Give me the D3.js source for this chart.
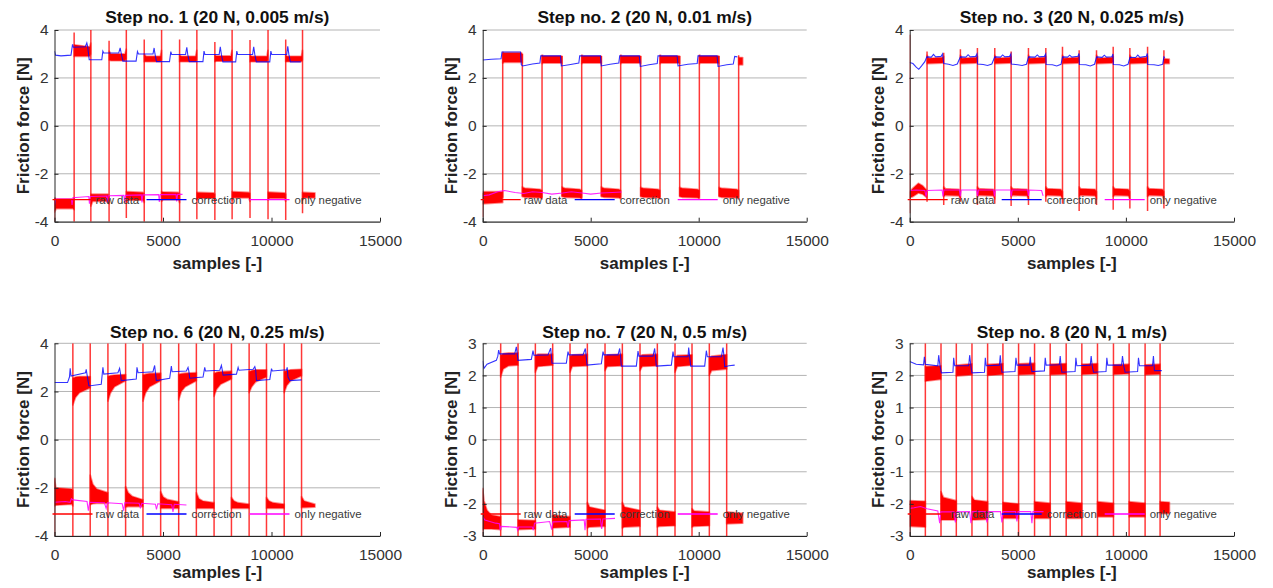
<!DOCTYPE html>
<html>
<head>
<meta charset="utf-8">
<script src="https://cdn.jsdelivr.net/npm/d3@7"></script>
<style>
  body { margin: 0; background: #fff; }
  svg { display: block; font-family: "Liberation Sans", Arial, Helvetica, sans-serif; }
</style>
</head>
<body>
<svg id="fig" width="1273" height="588"></svg>
<script>
// ---------- shared labels / ticks ----------
const stepTitles = [
  "Step no. 1 (20 N, 0.005 m/s)",
  "Step no. 2 (20 N, 0.01 m/s)",
  "Step no. 3 (20 N, 0.025 m/s)",
  "Step no. 6 (20 N, 0.25 m/s)",
  "Step no. 7 (20 N, 0.5 m/s)",
  "Step no. 8 (20 N, 1 m/s)"
];
const xTicks = [0, 5000, 10000, 15000];
const yTicksWide = [-4, -2, 0, 2, 4];
const yTicksNarrow = [-3, -2, -1, 0, 1, 2, 3];
const legendLabels = ["raw data", "correction", "only negative"];
const xLabel = "samples [-]";
const yLabel = "Friction force [N]";

// ---------- Step 1 ----------
// raw data sign switches: [sample, lowest value, highest value]
const step1Switch = [
  [0,-4,-3.0],[905,-4,3.9],[1675,-4,4],[2515,-4,3.55],[3310,-3.85,4],[4135,-4,3.6],[4935,-4,4],
  [5765,-4,3.6],[6560,-3.9,4],[7390,-3.93,3.5],[8185,-3.9,4],[9010,-3.85,3.58],[9840,-3.9,4],
  [10655,-3.93,3.6],[11430,-3.65,4]
];
// raw data plateaus: [sample, lower envelope, upper envelope]
const step1Pos = [
  [[905,2.9,3.38],[1620,2.9,3.3],[1670,3.0,3.45]],
  [[2515,2.75,3.12],[2600,2.72,3.0],[3250,2.72,3.0],[3305,2.8,3.2]],
  [[4135,2.68,3.0],[4220,2.68,2.9],[4880,2.68,2.9],[4930,2.75,3.15]],
  [[5765,2.68,2.95],[5850,2.68,2.9],[6500,2.68,2.9],[6555,2.75,3.15]],
  [[7390,2.68,2.95],[7470,2.7,2.92],[8130,2.7,2.92],[8180,2.75,3.15]],
  [[9010,2.68,2.95],[9090,2.68,2.9],[9790,2.68,2.9],[9835,2.75,3.15]],
  [[10655,2.68,2.95],[10730,2.68,2.9],[11380,2.68,2.9],[11425,2.75,3.15]]
];
const step1Neg = [
  [[0,-3.6,-3.0],[80,-3.45,-3.05],[850,-3.45,-3.05],[905,-3.5,-3.0]],
  [[1675,-3.35,-2.85],[1760,-3.15,-2.85],[2460,-3.15,-2.85],[2515,-3.25,-2.9]],
  [[3310,-3.2,-2.75],[3390,-3.1,-2.75],[4080,-3.1,-2.78],[4135,-3.2,-2.85]],
  [[4935,-3.15,-2.75],[5010,-3.08,-2.76],[5710,-3.08,-2.78],[5765,-3.2,-2.85]],
  [[6560,-3.1,-2.78],[6640,-3.02,-2.78],[7330,-3.02,-2.8],[7390,-3.15,-2.85]],
  [[8185,-3.1,-2.75],[8260,-3.0,-2.75],[8950,-3.0,-2.78],[9010,-3.15,-2.82]],
  [[9840,-3.1,-2.77],[9920,-3.02,-2.77],[10600,-3.02,-2.8],[10655,-3.15,-2.85]],
  [[11430,-3.1,-2.78],[11500,-3.0,-2.78],[12000,-3.0,-2.8]]
];
const step1Correction = [
  [0,3.12],[50,2.95],[300,2.92],[760,2.95],[800,3.2],[830,3.4],[870,3.28],[1420,3.3],[1490,3.46],
  [1530,3.3],[1600,2.76],[2180,2.76],[2228,3.12],[2270,3.04],[2960,3.04],[3026,3.25],[3070,3.05],
  [3150,2.7],[3760,2.7],[3823,3.1],[3870,3.0],[4540,3.0],[4591,3.25],[4630,3.0],[4700,2.68],
  [5300,2.68],[5360,3.1],[5400,2.98],[6040,2.98],[6097,3.28],[6140,2.98],[6210,2.68],[6840,2.68],
  [6890,3.12],[6930,2.98],[7590,2.98],[7640,3.3],[7690,2.98],[7760,2.67],[8350,2.67],[8400,3.12],
  [8440,2.98],[9130,2.98],[9180,3.3],[9230,2.98],[9300,2.67],[9920,2.67],[9970,3.12],[10010,2.98],
  [10700,2.98],[10750,3.32],[10800,2.98],[10870,2.67],[11350,2.67]
];
const step1OnlyNeg = [
  [0,-3.3],[60,-3.05],[780,-3.05],[810,-3.3],[850,-3.0],[1580,-2.95],[1610,-3.25],[1650,-2.95],
  [2400,-2.93],[2430,-3.22],[2470,-2.92],[3200,-2.9],[3230,-3.2],[3270,-2.9],[4000,-2.88],
  [4030,-3.2],[4070,-2.88],[4800,-2.87],[4830,-3.18],[4870,-2.87],[5600,-2.86],[5630,-3.15],
  [5670,-2.86],[5900,-2.86]
];

// ---------- Step 2 ----------
const step2Switch = [
  [0,-3.8,-2.8],[926,-3.0,3.05],[1836,-2.95,3.0],[2747,-3.0,2.95],[3672,-2.95,2.92],[4583,-3.0,2.95],
  [5493,-2.95,2.92],[6388,-3.0,2.95],[7314,-2.95,2.92],[8209,-3.0,2.95],[9119,-2.95,2.92],
  [10030,-3.0,2.95],[10940,-2.95,2.92],[11850,-3.0,2.95]
];
const step2Pos = [
  [[926,2.62,3.08],[1000,2.65,3.05],[1780,2.65,3.05],[1836,2.62,3.0]],
  [[2747,2.6,2.95],[2820,2.62,2.92],[3620,2.62,2.92],[3672,2.6,2.9]],
  [[4583,2.6,2.95],[4660,2.62,2.92],[5440,2.62,2.92],[5493,2.6,2.9]],
  [[6388,2.6,2.95],[6460,2.62,2.92],[7260,2.62,2.92],[7314,2.6,2.9]],
  [[8209,2.6,2.95],[8280,2.62,2.92],[9070,2.62,2.92],[9119,2.6,2.9]],
  [[10030,2.6,2.95],[10100,2.62,2.92],[10890,2.62,2.92],[10940,2.6,2.9]],
  [[11850,2.55,2.85],[12035,2.55,2.85]]
];
const step2Neg = [
  [[0,-3.25,-2.75],[926,-3.2,-2.75]],
  [[1836,-2.95,-2.55],[1950,-2.98,-2.6],[2650,-3.0,-2.65],[2747,-3.05,-2.7]],
  [[3672,-2.95,-2.55],[3790,-2.98,-2.6],[4490,-3.0,-2.65],[4583,-3.05,-2.7]],
  [[5493,-2.95,-2.55],[5610,-2.98,-2.6],[6300,-3.0,-2.65],[6388,-3.05,-2.7]],
  [[7314,-2.95,-2.57],[7430,-2.98,-2.6],[8120,-3.0,-2.65],[8209,-3.05,-2.7]],
  [[9119,-2.95,-2.57],[9230,-2.98,-2.6],[9940,-3.0,-2.65],[10030,-3.05,-2.7]],
  [[10940,-2.95,-2.57],[11050,-2.98,-2.6],[11760,-3.0,-2.65],[11850,-3.05,-2.7]]
];
const step2Correction = [
  [0,2.75],[400,2.78],[850,2.8],[894,3.08],[1750,3.08],[1788,2.55],[1850,2.5],[2300,2.58],
  [2650,2.62],[2685,2.92],[3600,2.92],[3640,2.5],[4000,2.55],[4450,2.62],[4490,2.92],[5450,2.92],
  [5490,2.5],[5900,2.57],[6300,2.62],[6343,2.92],[7250,2.92],[7297,2.48],[7700,2.55],[8080,2.6],
  [8116,2.92],[9000,2.92],[9042,2.5],[9500,2.57],[9930,2.6],[9968,2.92],[10850,2.92],[10894,2.48],
  [11300,2.55],[11600,2.58],[11667,2.9],[11788,2.88]
];
const step2OnlyNeg = [
  [0,-2.92],[300,-2.88],[700,-2.75],[1000,-2.7],[1500,-2.78],[1900,-2.82],[2300,-2.75],[2750,-2.78],
  [3200,-2.85],[3700,-2.8],[4100,-2.75],[4600,-2.8],[5000,-2.85],[5500,-2.8],[6000,-2.78],[6430,-2.76]
];

// ---------- Step 3 ----------
const step3Switch = [
  [0,-3.65,3.8],[802,-3.17,3.1],[1574,-3.3,3.05],[2345,-3.17,3.2],[3132,-3.3,3.25],[3935,-3.25,3.25],
  [4691,-3.35,3.1],[5493,-3.3,3.25],[6296,-3.17,3.25],[7067,-3.25,3.3],[7838,-3.55,3.15],
  [8641,-3.3,3.15],[9412,-3.5,3.3],[10184,-3.45,3.25],[11002,-3.55,3.3],[11758,-3.45,3.15]
];
const step3Pos = [
  [[802,2.6,2.95],[880,2.6,2.82],[1500,2.62,2.85],[1574,2.65,2.9]],
  [[2345,2.6,2.95],[2420,2.6,2.82],[3060,2.62,2.85],[3132,2.65,2.9]],
  [[3935,2.6,2.95],[4010,2.6,2.82],[4620,2.62,2.85],[4691,2.65,2.9]],
  [[5493,2.6,2.95],[5570,2.6,2.82],[6220,2.62,2.85],[6296,2.65,2.9]],
  [[7067,2.6,2.95],[7140,2.6,2.82],[7770,2.62,2.85],[7838,2.65,2.9]],
  [[8641,2.6,2.95],[8720,2.6,2.82],[9340,2.62,2.85],[9412,2.65,2.9]],
  [[10184,2.6,2.95],[10260,2.6,2.82],[10930,2.62,2.85],[11002,2.65,2.9]],
  [[11758,2.6,2.8],[12005,2.6,2.78]]
];
const step3Neg = [
  [[0,-3.0,-2.75],[150,-2.95,-2.6],[400,-2.8,-2.4],[600,-2.85,-2.5],[802,-3.0,-2.7]],
  [[1574,-2.95,-2.55],[1650,-2.9,-2.62],[2270,-2.92,-2.65],[2345,-3.05,-2.75]],
  [[3132,-2.95,-2.55],[3210,-2.9,-2.62],[3860,-2.92,-2.65],[3935,-3.05,-2.75]],
  [[4691,-2.95,-2.55],[4770,-2.9,-2.62],[5420,-2.92,-2.65],[5493,-3.05,-2.75]],
  [[6296,-2.95,-2.55],[6370,-2.9,-2.62],[6990,-2.92,-2.65],[7067,-3.05,-2.75]],
  [[7838,-2.95,-2.55],[7910,-2.9,-2.62],[8570,-2.92,-2.65],[8641,-3.05,-2.75]],
  [[9412,-2.95,-2.55],[9490,-2.9,-2.62],[10110,-2.92,-2.65],[10184,-3.05,-2.75]],
  [[11002,-2.95,-2.55],[11080,-2.9,-2.62],[11690,-2.92,-2.65],[11758,-3.05,-2.75]]
];
const step3Correction = [
  [0,2.64],[150,2.6],[300,2.45],[420,2.36],[550,2.5],[700,2.68],[790,2.88],[1000,2.87],[1100,2.98],
  [1200,2.88],[1450,2.9],[1520,3.0],[1574,2.6],[1800,2.57],[2000,2.52],[2200,2.58],[2345,2.88],
  [2600,2.87],[2700,2.97],[2800,2.88],[3050,2.9],[3110,3.0],[3140,2.58],[3400,2.56],[3600,2.52],
  [3800,2.58],[3935,2.88],[4200,2.87],[4300,2.96],[4400,2.88],[4620,2.9],[4680,3.0],[4700,2.58],
  [5000,2.55],[5200,2.52],[5400,2.57],[5500,2.88],[5800,2.87],[5900,2.96],[6000,2.88],[6230,2.9],
  [6290,3.0],[6310,2.56],[6600,2.55],[6800,2.5],[7000,2.57],[7070,2.88],[7300,2.87],[7400,2.95],
  [7500,2.87],[7780,2.9],[7830,3.02],[7850,2.56],[8150,2.55],[8350,2.5],[8550,2.57],[8645,2.88],
  [8900,2.86],[9000,2.95],[9100,2.87],[9350,2.88],[9400,3.0],[9420,2.56],[9700,2.55],[9900,2.5],
  [10100,2.57],[10190,2.86],[10450,2.85],[10550,2.95],[10650,2.86],[10940,2.9],[10990,3.02],
  [11010,2.56],[11300,2.55],[11500,2.52],[11700,2.57],[11760,2.88],[11800,2.85]
];
const step3OnlyNeg = [
  [0,-2.7],[300,-2.68],[700,-2.7],[760,-2.95],[800,-2.7],[1500,-2.68],[1540,-2.95],[1580,-2.68],
  [2300,-2.68],[2340,-2.95],[2380,-2.68],[3100,-2.68],[3140,-2.95],[3180,-2.68],[3880,-2.68],
  [3920,-2.95],[3960,-2.68],[4660,-2.68],[4700,-2.95],[4740,-2.68],[5450,-2.68],[5490,-2.92],
  [5530,-2.68],[6100,-2.7],[6170,-2.92]
];

// ---------- Step 6 ----------
const step6Switch = [
  [0,-4,-1.6],[846,-4,4],[1646,-4,4],[2462,-4,4],[3277,-4,4],[4077,-4,4],[4892,-4,4],[5723,-4,4],
  [6538,-4,4],[7354,-4,4],[8154,-4,4],[8969,-4,4],[9769,-4,4],[10585,-4,4],[11385,-4,4]
];
const step6Pos = [
  [[846,1.44,2.55],[966,1.75,2.6],[1146,1.95,2.62],[1646,2.15,2.62]],
  [[2462,1.6,2.62],[2582,1.95,2.66],[2762,2.2,2.68],[3277,2.45,2.7]],
  [[4077,1.6,2.68],[4197,1.95,2.72],[4377,2.2,2.75],[4892,2.45,2.76]],
  [[5723,1.65,2.7],[5843,2.0,2.74],[6023,2.2,2.76],[6538,2.45,2.78]],
  [[7354,1.8,2.75],[7474,2.1,2.8],[7654,2.3,2.82],[8154,2.52,2.84]],
  [[8969,1.95,2.82],[9089,2.2,2.87],[9269,2.4,2.9],[9769,2.6,2.9]],
  [[10585,1.95,2.82],[10705,2.25,2.87],[10885,2.45,2.9],[11385,2.65,2.92]]
];
const step6Neg = [
  [[0,-2.75,-1.6],[60,-2.72,-2.0],[800,-2.68,-2.05],[846,-2.75,-2.1]],
  [[1646,-2.7,-1.47],[1766,-2.66,-1.85],[1946,-2.64,-2.05],[2462,-2.64,-2.2]],
  [[3277,-2.8,-1.95],[3397,-2.78,-2.2],[3577,-2.78,-2.35],[4077,-2.78,-2.5]],
  [[4892,-2.85,-2.16],[5012,-2.85,-2.38],[5192,-2.85,-2.48],[5723,-2.85,-2.58]],
  [[6538,-2.85,-2.2],[6658,-2.85,-2.45],[6838,-2.85,-2.55],[7354,-2.85,-2.62]],
  [[8154,-2.85,-2.4],[8274,-2.85,-2.55],[8454,-2.85,-2.62],[8969,-2.85,-2.68]],
  [[9769,-2.85,-2.4],[9889,-2.85,-2.55],[10069,-2.85,-2.62],[10585,-2.85,-2.68]],
  [[11385,-2.82,-2.37],[11505,-2.82,-2.55],[12000,-2.8,-2.68]]
];
const step6Correction = [
  [0,2.37],[600,2.37],[690,2.6],[723,2.96],[760,2.64],[1430,2.78],[1462,2.92],[1500,2.7],[1585,2.23],
  [2154,2.3],[2231,3.0],[2270,2.72],[2923,2.78],[3000,2.96],[3040,2.75],[3077,2.45],[3769,2.52],
  [3800,3.0],[3850,2.78],[4538,2.82],[4615,3.08],[4650,2.8],[4692,2.45],[5308,2.55],[5385,3.05],
  [5420,2.82],[6077,2.85],[6154,3.0],[6190,2.85],[6231,2.55],[6846,2.6],[6923,3.0],[6960,2.85],
  [7615,2.88],[7692,3.08],[7730,2.9],[7769,2.68],[8385,2.72],[8462,3.0],[8500,2.88],[9154,2.92],
  [9231,3.03],[9270,2.9],[9308,2.45],[9923,2.5],[10000,2.95],[10040,2.85],[10692,2.9],[10723,3.0],
  [10760,2.6],[10846,2.45],[11385,2.48]
];
const step6OnlyNeg = [
  [0,-2.6],[500,-2.57],[720,-2.6],[780,-2.45],[850,-2.5],[1500,-2.57],[1560,-2.95],[1620,-2.6],
  [2300,-2.62],[2380,-2.85],[2440,-2.62],[3120,-2.66],[3185,-2.95],[3240,-2.62],[3900,-2.64],
  [3960,-2.85],[4020,-2.64],[4650,-2.68],[4700,-2.9],[4760,-2.66],[5400,-2.7],[5460,-3.0],
  [5520,-2.68],[6080,-2.71]
];

// ---------- Step 7 ----------
const step7Switch = [
  [0,-3,-1.5],[833,-3,3],[1636,-3,3],[2438,-3,3],[3240,-3,3],[4043,-3,3],[4845,-3,3],[5663,-3,3],
  [6465,-3,3],[7283,-3,3],[8085,-3,3],[8903,-3,3],[9690,-3,3],[10492,-3,3],[11295,-3,3]
];
const step7Pos = [
  [[833,1.95,2.62],[950,2.2,2.68],[1200,2.3,2.7],[1636,2.32,2.7]],
  [[2438,2.1,2.62],[2550,2.28,2.66],[3240,2.32,2.66]],
  [[4043,2.1,2.6],[4150,2.28,2.64],[4845,2.3,2.66]],
  [[5663,2.15,2.6],[5770,2.28,2.64],[6465,2.3,2.66]],
  [[7283,2.15,2.6],[7390,2.28,2.64],[8085,2.3,2.66]],
  [[8903,2.1,2.55],[9010,2.28,2.62],[9690,2.32,2.64]],
  [[10492,2.0,2.55],[10600,2.15,2.6],[11295,2.2,2.65]]
];
const step7Neg = [
  [[0,-2.8,-1.55],[60,-2.78,-1.9],[200,-2.78,-2.2],[400,-2.78,-2.35],[833,-2.8,-2.4]],
  [[1636,-2.8,-2.5],[2438,-2.78,-2.52]],
  [[3240,-2.75,-2.35],[4043,-2.72,-2.4]],
  [[4845,-2.75,-1.95],[4950,-2.72,-2.1],[5663,-2.7,-2.2]],
  [[6465,-2.75,-1.95],[6570,-2.72,-2.1],[7283,-2.7,-2.2]],
  [[8085,-2.72,-2.1],[8190,-2.7,-2.2],[8903,-2.68,-2.25]],
  [[9690,-2.72,-2.15],[9790,-2.7,-2.22],[10492,-2.68,-2.25]],
  [[11295,-2.62,-2.25],[12035,-2.6,-2.3]]
];
const step7Correction = [
  [0,2.45],[60,2.22],[200,2.35],[631,2.47],[700,2.6],[739,2.79],[780,2.67],[1480,2.67],[1557,2.89],
  [1600,2.67],[1634,2.47],[2252,2.5],[2329,2.77],[2370,2.63],[3023,2.64],[3147,2.85],[3180,2.6],
  [3209,2.38],[3872,2.38],[3949,2.74],[3990,2.64],[4644,2.64],[4752,2.84],[4790,2.6],[4829,2.32],
  [5493,2.36],[5570,2.74],[5610,2.64],[6265,2.64],[6342,2.84],[6380,2.6],[6419,2.29],[7113,2.29],
  [7190,2.76],[7230,2.6],[7885,2.6],[7962,2.84],[8000,2.6],[8039,2.29],[8734,2.32],[8811,2.74],
  [8850,2.58],[9505,2.58],[9536,2.87],[9580,2.6],[9629,2.29],[10277,2.29],[10354,2.77],[10400,2.58],
  [11049,2.58],[11126,2.87],[11170,2.6],[11203,2.27],[11400,2.3],[11666,2.32]
];
const step7OnlyNeg = [
  [0,-2.4],[100,-2.5],[600,-2.6],[780,-2.62],[802,-2.82],[850,-2.7],[1580,-2.73],[1620,-2.82],
  [1660,-2.72],[2300,-2.72],[2345,-2.82],[2400,-2.6],[3100,-2.55],[3194,-2.8],[3250,-2.56],
  [3900,-2.55],[3950,-2.75],[4000,-2.52],[4700,-2.5],[4737,-2.82],[4780,-2.48],[5450,-2.47],
  [5508,-2.78],[5560,-2.47],[6126,-2.45]
];

// ---------- Step 8 ----------
const step8Switch = [
  [0,-3,-1.9],[724,-3,3],[1448,-3,3],[2156,-3,3],[2880,-3,3],[3604,-3,3],[4312,-3,3],[5036,-3,3],
  [5775,-3,3],[6499,-3,3],[7238,-3,3],[7962,-3,3],[8686,-3,3],[9425,-3,3],[10149,-3,3],
  [10888,-3,3],[11581,-3,3]
];
const step8Pos = [
  [[724,1.82,2.28],[1448,1.88,2.3]],
  [[2156,1.98,2.32],[2880,2.02,2.36]],
  [[3604,2.0,2.34],[4312,2.03,2.37]],
  [[5036,2.02,2.36],[5775,2.04,2.38]],
  [[6499,2.02,2.35],[7238,2.04,2.37]],
  [[7962,2.03,2.35],[8686,2.05,2.37]],
  [[9425,2.03,2.33],[10149,2.05,2.35]],
  [[10888,2.02,2.33],[11581,2.04,2.35]]
];
const step8Neg = [
  [[0,-2.7,-1.9],[724,-2.72,-1.92]],
  [[1448,-2.5,-1.62],[1560,-2.5,-1.8],[2156,-2.5,-1.9]],
  [[2880,-2.5,-1.77],[2990,-2.5,-1.88],[3604,-2.48,-1.93]],
  [[4312,-2.45,-1.95],[5036,-2.45,-2.0]],
  [[5775,-2.45,-1.93],[6499,-2.45,-1.98]],
  [[7238,-2.45,-1.93],[7962,-2.45,-1.98]],
  [[8686,-2.4,-1.93],[9425,-2.4,-1.98]],
  [[10149,-2.4,-1.93],[10888,-2.4,-1.98]],
  [[11581,-2.3,-1.93],[12012,-2.3,-1.95]]
];
const step8Correction = [
  [0,2.43],[300,2.35],[640,2.33],[679,2.58],[720,2.35],[1300,2.3],[1341,2.63],[1400,2.3],[1464,2.08],
  [2000,2.1],[2034,2.55],[2080,2.3],[2730,2.3],[2773,2.63],[2830,2.3],[2881,2.08],[3460,2.1],
  [3497,2.55],[3540,2.3],[4150,2.32],[4190,2.63],[4230,2.3],[4267,2.1],[4870,2.12],[4914,2.55],
  [4960,2.32],[5540,2.32],[5576,2.58],[5610,2.32],[5653,2.12],[6230,2.14],[6269,2.55],[6310,2.32],
  [6920,2.33],[6962,2.6],[7000,2.3],[7039,2.1],[7650,2.12],[7686,2.55],[7730,2.3],[8350,2.32],
  [8394,2.6],[8440,2.3],[8502,2.1],[9080,2.12],[9118,2.55],[9160,2.32],[9800,2.32],[9842,2.6],
  [9900,2.3],[9965,2.1],[10540,2.12],[10581,2.55],[10630,2.3],[11230,2.3],[11274,2.6],[11320,2.15],
  [11660,2.15]
];
const step8OnlyNeg = [
  [0,-2.14],[200,-2.12],[500,-2.08],[800,-2.15],[1300,-2.22],[1386,-2.6],[1440,-2.25],[2050,-2.25],
  [2110,-2.58],[2170,-2.25],[2770,-2.24],[2834,-2.6],[2890,-2.24],[3500,-2.24],[3573,-2.58],
  [3630,-2.24],[4200,-2.24],[4266,-2.58],[4320,-2.24],[4900,-2.24],[4959,-2.55],[5010,-2.24],
  [5600,-2.24],[5652,-2.6],[5700,-2.24],[6190,-2.24]
];

// ---------- panel table built from the arrays above ----------
const panels = [
  { title: stepTitles[0], yDomain: [-4, 4], yTicks: yTicksWide, sw: step1Switch, pos: step1Pos, neg: step1Neg, corr: step1Correction, only: step1OnlyNeg },
  { title: stepTitles[1], yDomain: [-4, 4], yTicks: yTicksWide, sw: step2Switch, pos: step2Pos, neg: step2Neg, corr: step2Correction, only: step2OnlyNeg },
  { title: stepTitles[2], yDomain: [-4, 4], yTicks: yTicksWide, sw: step3Switch, pos: step3Pos, neg: step3Neg, corr: step3Correction, only: step3OnlyNeg },
  { title: stepTitles[3], yDomain: [-4, 4], yTicks: yTicksWide, sw: step6Switch, pos: step6Pos, neg: step6Neg, corr: step6Correction, only: step6OnlyNeg },
  { title: stepTitles[4], yDomain: [-3, 3], yTicks: yTicksNarrow, sw: step7Switch, pos: step7Pos, neg: step7Neg, corr: step7Correction, only: step7OnlyNeg },
  { title: stepTitles[5], yDomain: [-3, 3], yTicks: yTicksNarrow, sw: step8Switch, pos: step8Pos, neg: step8Neg, corr: step8Correction, only: step8OnlyNeg }
];

// ---------- layout ----------
const colX = [[54.5, 380], [482.7, 806.7], [909.7, 1234]];
const rowY = [
  { top: 30, bottom: 221.7, titleY: 22.5, xLabelY: 268.5 },
  { top: 343.3, bottom: 536, titleY: 337.5, xLabelY: 578 }
];
const colors = { raw: "#ff0000", corr: "#0000ff", only: "#ff00ff", axis: "#262626", grid: "#b4b4b4" };

const svg = d3.select("#fig");

panels.forEach((p, i) => {
  const col = colX[i % 3];
  const row = rowY[Math.floor(i / 3)];
  const x = d3.scaleLinear().domain([0, 15000]).range(col);
  const y = d3.scaleLinear().domain(p.yDomain).range([row.bottom, row.top]);
  const g = svg.append("g");
  const clipId = "clip" + i;

  g.append("clipPath").attr("id", clipId)
    .append("rect")
    .attr("x", col[0]).attr("y", row.top)
    .attr("width", col[1] - col[0]).attr("height", row.bottom - row.top);

  // horizontal grid
  g.append("g").selectAll("line").data(p.yTicks).join("line")
    .attr("x1", col[0]).attr("x2", col[1])
    .attr("y1", d => y(d)).attr("y2", d => y(d))
    .attr("stroke", colors.grid).attr("stroke-width", 1);

  const plot = g.append("g").attr("clip-path", `url(#${clipId})`);

  // raw data: plateau envelopes (soft edge suggests the sample noise)
  const band = d3.area().x(d => x(d[0])).y0(d => y(d[1])).y1(d => y(d[2]));
  plot.append("g").selectAll("path").data(p.pos.concat(p.neg)).join("path")
    .attr("d", band)
    .attr("fill", colors.raw)
    .attr("stroke", colors.raw).attr("stroke-width", 1.8).attr("stroke-opacity", 0.45)
    .attr("stroke-linejoin", "round");

  // raw data: sign switches
  plot.append("g").selectAll("line").data(p.sw).join("line")
    .attr("x1", d => x(d[0])).attr("x2", d => x(d[0]))
    .attr("y1", d => y(d[1])).attr("y2", d => y(d[2]))
    .attr("stroke", colors.raw).attr("stroke-width", 1.5).attr("stroke-opacity", 0.78);

  const line = d3.line().x(d => x(d[0])).y(d => y(d[1]));
  plot.append("path").datum(p.corr).attr("d", line)
    .attr("fill", "none").attr("stroke", colors.corr).attr("stroke-width", 1.1).attr("stroke-opacity", 0.8);
  plot.append("path").datum(p.only).attr("d", line)
    .attr("fill", "none").attr("stroke", colors.only).attr("stroke-width", 1.1).attr("stroke-opacity", 0.85);

  // axes
  const xAxis = d3.axisBottom(x).tickValues(xTicks).tickFormat(d3.format("d"))
    .tickSizeInner(-4).tickSizeOuter(0).tickPadding(13);
  const gx = g.append("g").attr("transform", `translate(0,${row.bottom})`).call(xAxis);
  const yAxis = d3.axisLeft(y).tickValues(p.yTicks).tickFormat(d3.format("d"))
    .tickSizeInner(-4).tickSizeOuter(0).tickPadding(6);
  const gy = g.append("g").attr("transform", `translate(${col[0]},0)`).call(yAxis);
  [gx, gy].forEach(a => {
    a.select(".domain").attr("stroke", colors.axis).attr("stroke-width", 1);
    a.selectAll(".tick line").attr("stroke", colors.axis);
    a.selectAll(".tick text").attr("fill", "#333")
      .style("font-size", "15.5px").style("font-family", '"Liberation Sans", Arial, sans-serif');
  });
  // plain hyphen-minus for negative tick labels
  gy.selectAll(".tick text").text(d => String(d));

  // title and axis labels
  const cx = (col[0] + col[1]) / 2;
  g.append("text").attr("x", cx).attr("y", row.titleY)
    .attr("text-anchor", "middle").attr("font-weight", "bold").attr("font-size", 17.4)
    .attr("fill", "#111").text(p.title);
  g.append("text").attr("x", cx).attr("y", row.xLabelY)
    .attr("text-anchor", "middle").attr("font-weight", "bold").attr("font-size", 17)
    .attr("fill", "#222").text(xLabel);
  const cy = (row.top + row.bottom) / 2;
  g.append("text")
    .attr("transform", `translate(${col[0] - 31},${cy}) rotate(-90)`)
    .attr("text-anchor", "middle").attr("dominant-baseline", "central")
    .attr("font-weight", "bold").attr("font-size", 17)
    .attr("fill", "#222").text(yLabel);

  // legend (horizontal, no box)
  const lx = col[0] - 2, ly = row.bottom - 22;
  const legendItems = [
    { label: legendLabels[0], color: colors.raw, x0: 0, tx: 43 },
    { label: legendLabels[1], color: colors.corr, x0: 94, tx: 139 },
    { label: legendLabels[2], color: colors.only, x0: 197, tx: 242 }
  ];
  const lg = g.append("g").attr("transform", `translate(${lx},${ly})`);
  legendItems.forEach(it => {
    lg.append("line").attr("x1", it.x0).attr("x2", it.x0 + 40).attr("y1", 0).attr("y2", 0)
      .attr("stroke", it.color).attr("stroke-width", 1.3);
    lg.append("text").attr("x", it.tx).attr("y", 0).attr("dy", "0.35em")
      .attr("font-size", 11.4).attr("fill", "#3a3a3a").text(it.label);
  });
});
</script>
</body>
</html>
